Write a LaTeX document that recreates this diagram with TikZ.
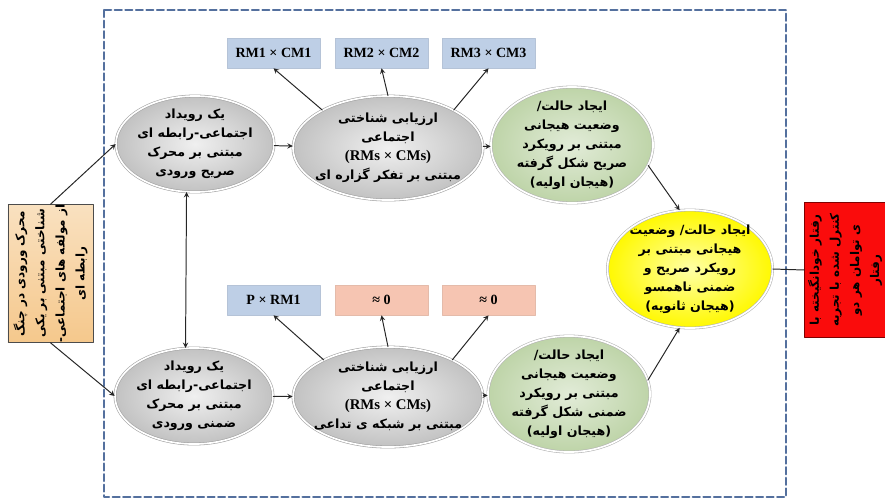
\documentclass[tikz,border=0pt]{standalone}
\usepackage{fontspec}
\usepackage{graphicx}
\setmainfont{Liberation Serif}
\newfontfamily\arabicfont[Script=Arabic]{DejaVu Sans}
\newfontfamily\latinfont{Liberation Serif}
\TeXXeTstate=1
\usetikzlibrary{shapes.geometric}
\newcommand{\fa}[1]{\beginR #1\endR}
\newcommand{\rms}{{\latinfont\fontsize{10.5}{13.5}\selectfont (RMs × CMs)}}
\definecolor{frameblue}{RGB}{84,112,158}
\definecolor{cellblue}{RGB}{190,207,230}
\definecolor{cellpink}{RGB}{246,197,178}
\definecolor{inputtan}{RGB}{245,200,140}
\definecolor{stategreen}{RGB}{190,212,168}
\definecolor{outred}{RGB}{250,12,12}
\tikzset{
  evt/.style={ellipse, draw=gray!75, double=white, double distance=1.2pt,
    inner color=gray!12, outer color=gray!48, minimum width=#1, minimum height=2.4cm,
    inner xsep=-6pt, inner ysep=-8pt, align=center,
    font=\arabicfont\bfseries\fontsize{9}{13.5}\selectfont},
  state/.style={evt=4.05cm, minimum height=2.9cm, inner color=stategreen!45,
    outer color=stategreen, draw=gray!60},
  cell/.style={rectangle, draw=#1!85!gray, fill=#1, minimum width=2.325cm,
    minimum height=0.75cm, font=\latinfont\bfseries\fontsize{10}{12}\selectfont},
  conn/.style={->, line width=0.7pt, black!85},
  sidebox/.style={rectangle, draw=black!70, line width=0.6pt, inner sep=0pt,
    font=\arabicfont\bfseries\fontsize{8.5}{11}\selectfont}
}
\renewcommand{\arraystretch}{1.3}
\begin{document}
\begin{tikzpicture}[x=0.025cm, y=-0.025cm, line join=round, line cap=round, >=stealth]
  \useasboundingbox (0,0) rectangle (885,502);
  \draw[frameblue, line width=1.5pt, dash pattern=on 5pt off 2.5pt] (104,10) rectangle (786,497);

  % input and output
  \node[sidebox, top color=inputtan!55, bottom color=inputtan, minimum width=2.125cm, minimum height=3.425cm]
    (input) at (50.5,273.5) {\rotatebox{90}{\begin{tabular}{@{}c@{}}\fa{محرک ورودی در چنگ}\\ \fa{شناختی مبتنی بر یکی}\\ \fa{از مولفه های اجتماعی-}\\ \fa{رابطه ای}\end{tabular}}};
  \node[sidebox, fill=outred, draw=red!50!black, minimum width=2.0cm, minimum height=3.375cm]
    (behav) at (845,270) {\rotatebox{90}{\begin{tabular}{@{}c@{}}\fa{رفتار خودانگیخته با}\\ \fa{کنترل شده با تجربه}\\ \fa{ی توامان هر دو}\\ \fa{رفتار}\end{tabular}}};

  % explicit route
  \node[evt=3.95cm] (evA) at (195,144) {\fa{یک رویداد}\\ \fa{اجتماعی-رابطه ای}\\ \fa{مبتنی بر محرک}\\ \fa{صریح ورودی}};
  \node[evt=4.75cm, minimum height=2.6cm] (apA) at (388,148) {\fa{ارزیابی شناختی}\\ \fa{اجتماعی}\\ \rms\\ \fa{مبتنی بر تفکر گزاره ای}};
  \node[state] (stA) at (572,145) {\fa{ایجاد حالت/}\\ \fa{وضعیت هیجانی}\\ \fa{مبتنی بر رویکرد}\\ \fa{صریح شکل گرفته}\\ \fa{(هیجان اولیه)}};
  \node[cell=cellblue] (rA1) at (273.5,53) {RM1 × CM1};
  \node[cell=cellblue] (rA2) at (381.5,53) {RM2 × CM2};
  \node[cell=cellblue] (rA3) at (488.5,53) {RM3 × CM3};

  % implicit route
  \node[evt=3.95cm] (evB) at (194,396) {\fa{یک رویداد}\\ \fa{اجتماعی-رابطه ای}\\ \fa{مبتنی بر محرک}\\ \fa{ضمنی ورودی}};
  \node[evt=4.75cm, minimum height=2.5cm] (apB) at (388,397) {\fa{ارزیابی شناختی}\\ \fa{اجتماعی}\\ \rms\\ \fa{مبتنی بر شبکه ی تداعی}};
  \node[state] (stB) at (569,394) {\fa{ایجاد حالت/}\\ \fa{وضعیت هیجانی}\\ \fa{مبتنی بر رویکرد}\\ \fa{ضمنی شکل گرفته}\\ \fa{(هیجان اولیه)}};
  \node[cell=cellblue] (rB1) at (273.5,300) {P × RM1};
  \node[cell=cellpink] (rB2) at (381.5,300) {≈ 0};
  \node[cell=cellpink] (rB3) at (488.5,300) {≈ 0};

  \node[state, evt=4.125cm, minimum height=2.95cm, inner color=yellow!35, outer color=yellow!95!orange, draw=gray!60]
    (mix) at (690,269) {\fa{ایجاد حالت/ وضعیت}\\ \fa{هیجانی مبتنی بر}\\ \fa{رویکرد صریح و}\\ \fa{ضمنی ناهمسو}\\ \fa{(هیجان ثانویه)}};

  \draw[conn] (input.north) -- (evA.west);
  \draw[conn] (input.south) -- (evB.west);
  \draw[conn] (evA) -- (apA);
  \draw[conn] (apA) -- (stA);
  \draw[conn] (evB) -- (apB);
  \draw[conn] (apB) -- (stB);
  \draw[conn, <->] (evA.260) -- (evB.100);
  \draw[conn] (apA.150) -- (rA1.south);
  \draw[conn] (apA.north) -- (rA2.south);
  \draw[conn] (apA.30) -- (rA3.south);
  \draw[conn] (apB.150) -- (rB1.south);
  \draw[conn] (apB.north) -- (rB2.south);
  \draw[conn] (apB.30) -- (rB3.south);
  \draw[conn] (stA.-15) -- (mix.100);
  \draw[conn] (stB.10) -- (mix.260);
  \draw[line width=0.7pt, black!85] (mix.east) -- (behav.west);
\end{tikzpicture}
\end{document}
